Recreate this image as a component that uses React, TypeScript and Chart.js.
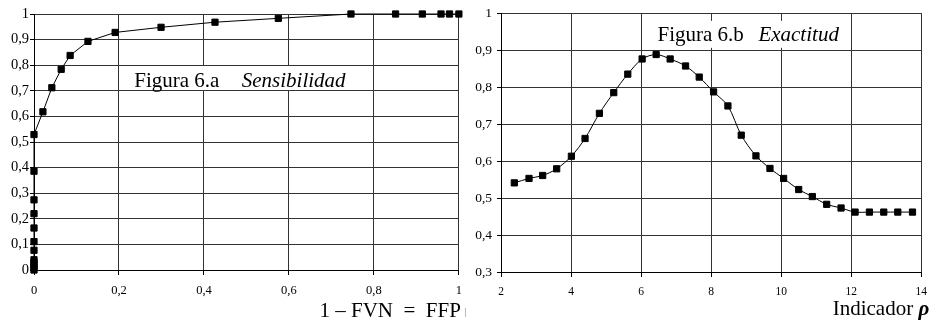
import React, { useEffect, useRef } from 'react';
import { Chart, registerables } from 'chart.js';

Chart.register(...registerables);

// Figura 6.a — Sensibilidad (1 – FVN = FFP on x)
const sensX = [0, 0, 0, 0, 0, 0, 0, 0, 0, 0, 0, 0, 0.021, 0.042, 0.064, 0.085, 0.127, 0.191, 0.299, 0.426, 0.575, 0.746, 0.851, 0.914, 0.958, 0.978, 1.0];
const sensY = [0, 0.01, 0.02, 0.03, 0.04, 0.077, 0.111, 0.164, 0.22, 0.274, 0.386, 0.529, 0.618, 0.712, 0.784, 0.838, 0.893, 0.928, 0.948, 0.968, 0.983, 1.0, 1.0, 1.0, 1.0, 1.0, 1.0];

// Figura 6.b — Exactitud vs Indicador rho
const exX = [2.38, 2.8, 3.19, 3.59, 4.01, 4.4, 4.81, 5.22, 5.62, 6.03, 6.43, 6.83, 7.27, 7.66, 8.07, 8.48, 8.86, 9.28, 9.68, 10.07, 10.5, 10.89, 11.3, 11.71, 12.11, 12.52, 12.93, 13.33, 13.75];
const exY = [0.541, 0.553, 0.561, 0.579, 0.613, 0.661, 0.729, 0.785, 0.835, 0.876, 0.888, 0.876, 0.857, 0.827, 0.787, 0.749, 0.67, 0.614, 0.58, 0.553, 0.523, 0.504, 0.483, 0.473, 0.462, 0.462, 0.462, 0.462, 0.462];

const leftTitle = 'Figura 6.a';
const leftSubtitle = 'Sensibilidad';
const leftAxisTitle = '1 – FVN  =  FFP';
const rightTitle = 'Figura 6.b';
const rightSubtitle = 'Exactitud';
const rightAxisTitle = 'Indicador';
const rightAxisSymbol = 'ρ';

const SERIF = "'Liberation Serif', 'Times New Roman', serif";
const GRID = '#333';
const fmt = (v: number) => String(Math.round(v * 10) / 10).replace('.', ',');

function makePoints(xs: number[], ys: number[]) {
  return xs.map((x, i) => ({ x, y: ys[i] }));
}

function baseScale(min: number, max: number, step: number, fontSize: number, tickLen: number, pad: number) {
  return {
    type: 'linear' as const,
    min,
    max,
    ticks: {
      stepSize: step,
      color: '#000',
      font: { family: SERIF, size: fontSize },
      padding: pad,
      callback: (v: any) => fmt(Number(v)),
    },
    grid: { color: GRID, lineWidth: 1, tickLength: tickLen, tickColor: '#000' },
    border: { display: true, color: '#000', width: 1 },
  };
}

const rowOf = (p: number) => Math.round(p - 0.5);

const leftOverlay = {
  id: 'leftOverlay',
  afterDraw(chart: any) {
    const ctx = chart.ctx;
    const x = chart.scales.x;
    const y = chart.scales.y;
    ctx.save();
    const bx0 = x.getPixelForValue(0.213);
    const bx1 = x.getPixelForValue(0.765);
    const by0 = rowOf(y.getPixelForValue(0.8)) + 1;
    const by1 = rowOf(y.getPixelForValue(0.7));
    ctx.fillStyle = '#fff';
    ctx.fillRect(bx0, by0, bx1 - bx0, by1 - by0);
    ctx.fillStyle = '#000';
    ctx.textBaseline = 'alphabetic';
    ctx.textAlign = 'left';
    ctx.font = `21px ${SERIF}`;
    ctx.fillText(leftTitle, x.getPixelForValue(0.236), 87.3);
    ctx.font = `italic 21px ${SERIF}`;
    ctx.fillText(leftSubtitle, x.getPixelForValue(0.489), 87);
    ctx.font = `21px ${SERIF}`;
    ctx.textAlign = 'right';
    ctx.fillText(leftAxisTitle, chart.chartArea.right + 2, 316.5);
    ctx.strokeStyle = '#bbb';
    ctx.lineWidth = 1;
    ctx.beginPath();
    ctx.moveTo(465.5, 308);
    ctx.lineTo(465.5, 317);
    ctx.stroke();
    ctx.restore();
  },
};

const rightOverlay = {
  id: 'rightOverlay',
  afterDraw(chart: any) {
    const ctx = chart.ctx;
    const x = chart.scales.x;
    const y = chart.scales.y;
    ctx.save();
    const bx0 = x.getPixelForValue(6.21);
    const bx1 = x.getPixelForValue(11.84);
    const by0 = y.getPixelForValue(0.979);
    const by1 = y.getPixelForValue(0.906);
    ctx.fillStyle = '#fff';
    ctx.fillRect(bx0, by0, bx1 - bx0, by1 - by0);
    ctx.fillStyle = '#000';
    ctx.textBaseline = 'alphabetic';
    ctx.textAlign = 'left';
    ctx.font = `21px ${SERIF}`;
    ctx.fillText(rightTitle, x.getPixelForValue(6.47), y.getPixelForValue(0.925));
    ctx.font = `italic 21px ${SERIF}`;
    ctx.fillText(rightSubtitle, x.getPixelForValue(9.35), y.getPixelForValue(0.925));
    ctx.font = `21px ${SERIF}`;
    const tx = 362.7;
    ctx.fillText(rightAxisTitle, tx, 315);
    const w = ctx.measureText(rightAxisTitle + ' ').width;
    ctx.font = `bold italic 21px ${SERIF}`;
    ctx.fillText(rightAxisSymbol, tx + w, 315);
    ctx.restore();
  },
};

function LeftChart() {
  const ref = useRef<HTMLCanvasElement | null>(null);
  useEffect(() => {
    if (!ref.current) return;
    const chart = new Chart(ref.current, {
      type: 'scatter',
      data: {
        datasets: [
          {
            data: makePoints(sensX, sensY),
            showLine: true,
            borderColor: '#000',
            borderWidth: 1,
            backgroundColor: '#000',
            pointStyle: 'rect',
            pointRadius: 4.4,
            pointBorderWidth: 1,
            pointBorderColor: '#000',
            pointBackgroundColor: '#000',
            tension: 0,
            clip: false as any,
          },
        ],
      },
      options: {
        responsive: false,
        animation: false,
        devicePixelRatio: 1,
        layout: { padding: { top: 14, right: 10, bottom: 0, left: 0 } },
        plugins: { legend: { display: false }, tooltip: { enabled: false } },
        scales: {
          x: {
            ...baseScale(0, 1, 0.2, 12.5, 5, 8),
            afterFit: (s: any) => {
              s.height = 53;
            },
          },
          y: {
            ...baseScale(0, 1, 0.1, 14.5, 4, 1),
            afterFit: (s: any) => {
              s.width = 34;
            },
          },
        },
      } as any,
      plugins: [leftOverlay],
    });
    return () => chart.destroy();
  }, []);
  return (
    <canvas
      ref={ref}
      width={470}
      height={323}
      style={{ position: 'absolute', left: 0, top: 0, width: 470, height: 323 }}
    />
  );
}

function RightChart() {
  const ref = useRef<HTMLCanvasElement | null>(null);
  useEffect(() => {
    if (!ref.current) return;
    const chart = new Chart(ref.current, {
      type: 'scatter',
      data: {
        datasets: [
          {
            data: makePoints(exX, exY),
            showLine: true,
            borderColor: '#000',
            borderWidth: 1,
            backgroundColor: '#000',
            pointStyle: 'rect',
            pointRadius: 4.4,
            pointBorderWidth: 1,
            pointBorderColor: '#000',
            pointBackgroundColor: '#000',
            tension: 0.3,
            clip: false as any,
          },
        ],
      },
      options: {
        responsive: false,
        animation: false,
        devicePixelRatio: 1,
        layout: { padding: { top: 13, right: 7, bottom: 0, left: 0 } },
        plugins: { legend: { display: false }, tooltip: { enabled: false } },
        scales: {
          x: {
            ...baseScale(2, 14, 2, 11.5, 5, 8),
            afterFit: (s: any) => {
              s.height = 51;
            },
          },
          y: {
            ...baseScale(0.3, 1, 0.1, 13.5, 4, 5),
            afterFit: (s: any) => {
              s.width = 31;
            },
          },
        },
      } as any,
      plugins: [rightOverlay],
    });
    return () => chart.destroy();
  }, []);
  return (
    <canvas
      ref={ref}
      width={465}
      height={323}
      style={{ position: 'absolute', left: 470, top: 0, width: 465, height: 323 }}
    />
  );
}

export default function App() {
  return (
    <div
      style={{
        position: 'fixed',
        left: 0,
        top: 0,
        width: 935,
        height: 323,
        background: '#fff',
        overflow: 'hidden',
      }}
    >
      <LeftChart />
      <RightChart />
    </div>
  );
}
